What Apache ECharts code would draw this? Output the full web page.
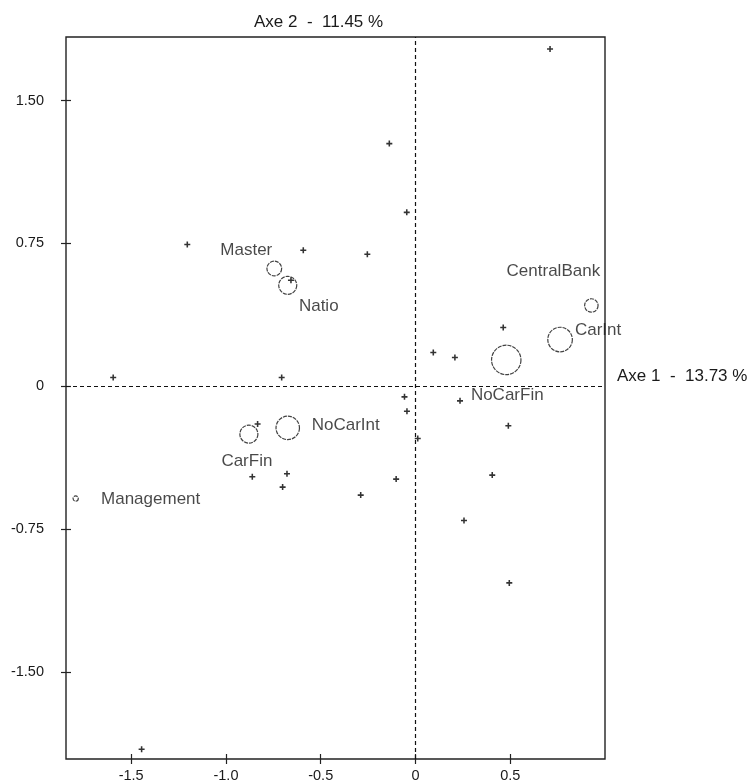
<!DOCTYPE html>
<html>
<head>
<meta charset="utf-8">
<script src="https://cdn.jsdelivr.net/npm/echarts@6/dist/echarts.min.js"></script>
<style>
html,body{margin:0;padding:0;background:#fff;}
#chart{width:752px;height:784px;}
</style>
</head>
<body>
<div id="chart"></div>
<script>
// ---- data ----
const categoryNames = ['Master','Natio','CentralBank','CarInt','NoCarFin','NoCarInt','CarFin','Management'];
const categoryX = [-0.745,-0.674,0.928,0.763,0.479,-0.674,-0.879,-1.793];
const categoryY = [0.618,0.530,0.424,0.245,0.138,-0.219,-0.252,-0.590];
const categoryWeight = [24,36,20,67,96,61,36,3];

const pointX = [0.710,-0.138,-0.046,-1.204,-0.592,-0.254,-0.657,0.463,0.094,0.208,-1.595,-0.706,-0.058,0.235,-0.045,0.490,0.012,-0.833,-0.861,-0.678,-0.701,-0.289,-0.102,0.405,0.256,0.495,-1.445];
const pointY = [1.771,1.274,0.913,0.744,0.714,0.693,0.556,0.308,0.177,0.151,0.046,0.046,-0.056,-0.077,-0.132,-0.208,-0.275,-0.199,-0.476,-0.460,-0.530,-0.572,-0.488,-0.467,-0.705,-1.033,-1.907];

const xTickValues = [-1.5,-1.0,-0.5,0,0.5];
const xTickLabels = ['-1.5','-1.0','-0.5','0','0.5'];
const yTickValues = [-1.5,-0.75,0,0.75,1.5];
const yTickLabels = ['-1.50','-0.75','0','0.75','1.50'];
const axis1Title = 'Axe 1  -  13.73 %';
const axis2Title = 'Axe 2  -  11.45 %';

// ---- styling (not data) ----
const FONT = '"Liberation Sans", Arial, sans-serif';
const TXT = '#1a1a1a';
const labelOffsets = {
  Master:[-28,-18], Natio:[31,21], CentralBank:[-38,-34], CarInt:[38,-9],
  NoCarFin:[1,35], NoCarInt:[58,-3], CarFin:[-2,27], Management:[75,1]
};

const xRange = [-1.844, 1.0];
const yRange = [-1.958, 1.834];

const categoryData = categoryNames.map((n,i)=>({
  name:n, value:[categoryX[i], categoryY[i], categoryWeight[i]],
  label:{offset: labelOffsets[n]}
}));
const pointData = pointX.map((x,i)=>[x, pointY[i]]);

function xFmt(v){ const i = xTickValues.indexOf(v); return i>=0 ? xTickLabels[i] : ''; }
function yFmt(v){ const i = yTickValues.indexOf(v); return i>=0 ? yTickLabels[i] : ''; }

const baseX = {type:'value', min:xRange[0], max:xRange[1], splitLine:{show:false}, axisLine:{show:false, onZero:false}};
const baseY = {type:'value', min:yRange[0], max:yRange[1], splitLine:{show:false}, axisLine:{show:false, onZero:false}};
const tickStyle = {color:'#222', width:1.2};

const chart = echarts.init(document.getElementById('chart'), null, {renderer:'canvas'});
chart.setOption({
  animation:false,
  backgroundColor:'#fff',
  grid:{left:66, right:147, top:37, bottom:25, show:true, borderColor:'#222', borderWidth:1.4, backgroundColor:'transparent'},
  xAxis:[
    Object.assign({}, baseX, {position:'bottom',
      axisTick:{show:true, inside:false, length:5, lineStyle:tickStyle, customValues:xTickValues},
      axisLabel:{show:true, margin:9, color:TXT, fontSize:14.5, fontFamily:FONT, customValues:xTickValues, formatter:xFmt}}),
    Object.assign({}, baseX, {position:'bottom', offset:0,
      axisTick:{show:true, inside:true, length:5, lineStyle:tickStyle, customValues:xTickValues},
      axisLabel:{show:false}})
  ],
  yAxis:[
    Object.assign({}, baseY, {position:'left',
      axisTick:{show:true, inside:false, length:5, lineStyle:tickStyle, customValues:yTickValues},
      axisLabel:{show:true, margin:22, color:TXT, fontSize:14.5, fontFamily:FONT, customValues:yTickValues, formatter:yFmt}}),
    Object.assign({}, baseY, {position:'left', offset:0,
      axisTick:{show:true, inside:true, length:5, lineStyle:tickStyle, customValues:yTickValues},
      axisLabel:{show:false}})
  ],
  graphic:[
    {type:'text', left:254, top:14, style:{text:axis2Title, fill:TXT, font:'17px ' + FONT}},
    {type:'text', left:617, top:368, style:{text:axis1Title, fill:TXT, font:'17px ' + FONT}}
  ],
  series:[
    {
      type:'scatter', xAxisIndex:0, yAxisIndex:0,
      data:pointData,
      symbol:'path://M2,0H3.4V2H5.4V3.4H3.4V5.4H2V3.4H0V2H2Z',
      symbolSize:6,
      itemStyle:{color:'#000'},
      silent:true,
      z:3,
      markLine:{
        silent:true, symbol:['none','none'], label:{show:false},
        lineStyle:{color:'#111', width:1.2, type:[4,3]},
        data:[{xAxis:0},{yAxis:0}]
      }
    },
    {
      type:'scatter', xAxisIndex:0, yAxisIndex:0,
      data:categoryData,
      symbol:'circle',
      symbolSize:function(v){ return 3*Math.sqrt(v[2]); },
      itemStyle:{color:'rgba(0,0,0,0)', borderColor:'#111', borderWidth:1.2, borderType:[4,1]},
      label:{show:true, position:'inside', formatter:'{b}', color:TXT, fontSize:17, fontFamily:FONT},
      silent:true,
      z:2
    }
  ]
});
</script>
</body>
</html>
